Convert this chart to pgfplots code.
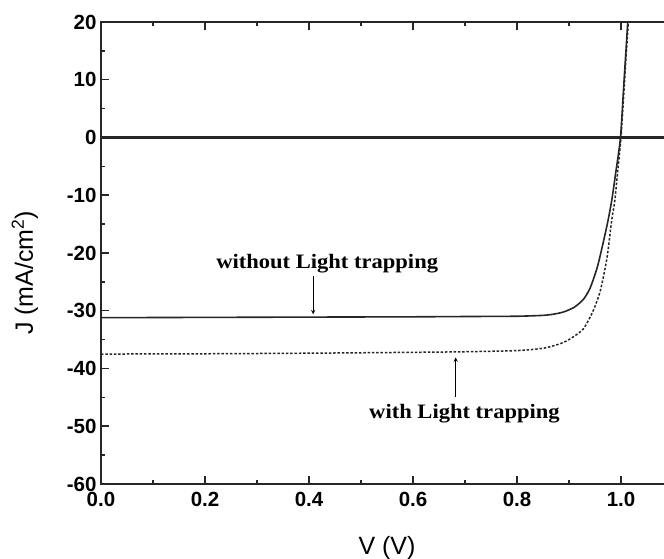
\documentclass[border=0pt]{standalone}
\usepackage{pgfplots}
\pgfplotsset{compat=1.18}
\usepackage{fontspec}
\setmainfont{Liberation Sans}
\newfontfamily\annfont{Liberation Serif}[FakeStretch=1.1]
\begin{document}
\begin{tikzpicture}[x=1pt,y=1pt]
% page frame; the plot box runs slightly past the right edge
\useasboundingbox (-101pt,-75pt) rectangle (563pt,484pt);
\begin{axis}[
  at={(0pt,0pt)}, anchor=south west,
  scale only axis, width=572pt, height=462pt,
  xmin=0, xmax=1.1, ymin=-60, ymax=20,
  xtick={0,0.2,...,1.0}, minor x tick num=1,
  ytick={-60,-50,...,20}, minor y tick num=1,
  tick align=inside, major tick length=8pt, minor tick length=4pt,
  every tick/.style={line width=1.5pt, black!85},
  axis line style={line width=2.2pt, black!85},
  /pgf/number format/assume math mode=true,
  tick label style={font=\fontsize{20.5}{20.5}\selectfont\bfseries},
  xticklabel style={/pgf/number format/fixed, /pgf/number format/fixed zerofill, /pgf/number format/precision=1, yshift=-5pt},
  yticklabel style={xshift=-1pt},
  xlabel={V (V)},
  ylabel={J (mA/cm\textsuperscript{2})},
  every axis x label/.style={at={(axis description cs:0.5,0)}, anchor=base, yshift=-71pt, font=\fontsize{25}{25}\selectfont},
  every axis y label/.style={at={(axis description cs:-0.119,0.457)}, anchor=base, rotate=90, font=\fontsize{25}{25}\selectfont},
  clip=true,
]
% zero-current line
\addplot[black!85, line width=2.2pt] coordinates {(0,0) (1.1,0)};
% without light trapping
\addplot[black!85, line width=1.6pt, smooth, tension=0.4] coordinates {
  (0,-31.2) (0.2,-31.15) (0.4,-31.1) (0.6,-31.05) (0.7,-31.0) (0.8,-30.95)
  (0.85,-30.8) (0.87,-30.6) (0.89,-30.2) (0.91,-29.4) (0.927,-28.1)
  (0.94,-26.2) (0.954,-22.6) (0.965,-18.5) (0.975,-14.4) (0.982,-11)
  (0.99,-6) (0.999,0) (1.006,10) (1.013,20) (1.016,25)};
% with light trapping
\addplot[black!85, line width=1.5pt, dash pattern=on 2.5pt off 1.8pt, smooth, tension=0.4] coordinates {
  (0,-37.5) (0.2,-37.45) (0.4,-37.35) (0.6,-37.2) (0.7,-37.1) (0.8,-36.9)
  (0.85,-36.5) (0.88,-35.8) (0.9,-35.0) (0.927,-33.2) (0.946,-30.1)
  (0.96,-26.6) (0.973,-20.9) (0.982,-14.4) (0.988,-11) (0.994,-5.5)
  (1.0,0) (1.007,10) (1.014,20) (1.017,25)};
% annotations
\node[anchor=base, font=\annfont\fontsize{20.5}{20.5}\selectfont\bfseries] at (axis cs:0.435,-22.6) {without Light trapping};
\draw[-stealth, line width=0.9pt] (axis cs:0.408,-24) -- (axis cs:0.408,-30.6);
\node[anchor=base, font=\annfont\fontsize{20.5}{20.5}\selectfont\bfseries] at (axis cs:0.699,-48.7) {with Light trapping};
\draw[-stealth, line width=0.9pt] (axis cs:0.682,-44.9) -- (axis cs:0.682,-38.1);
\end{axis}
\end{tikzpicture}
\end{document}
